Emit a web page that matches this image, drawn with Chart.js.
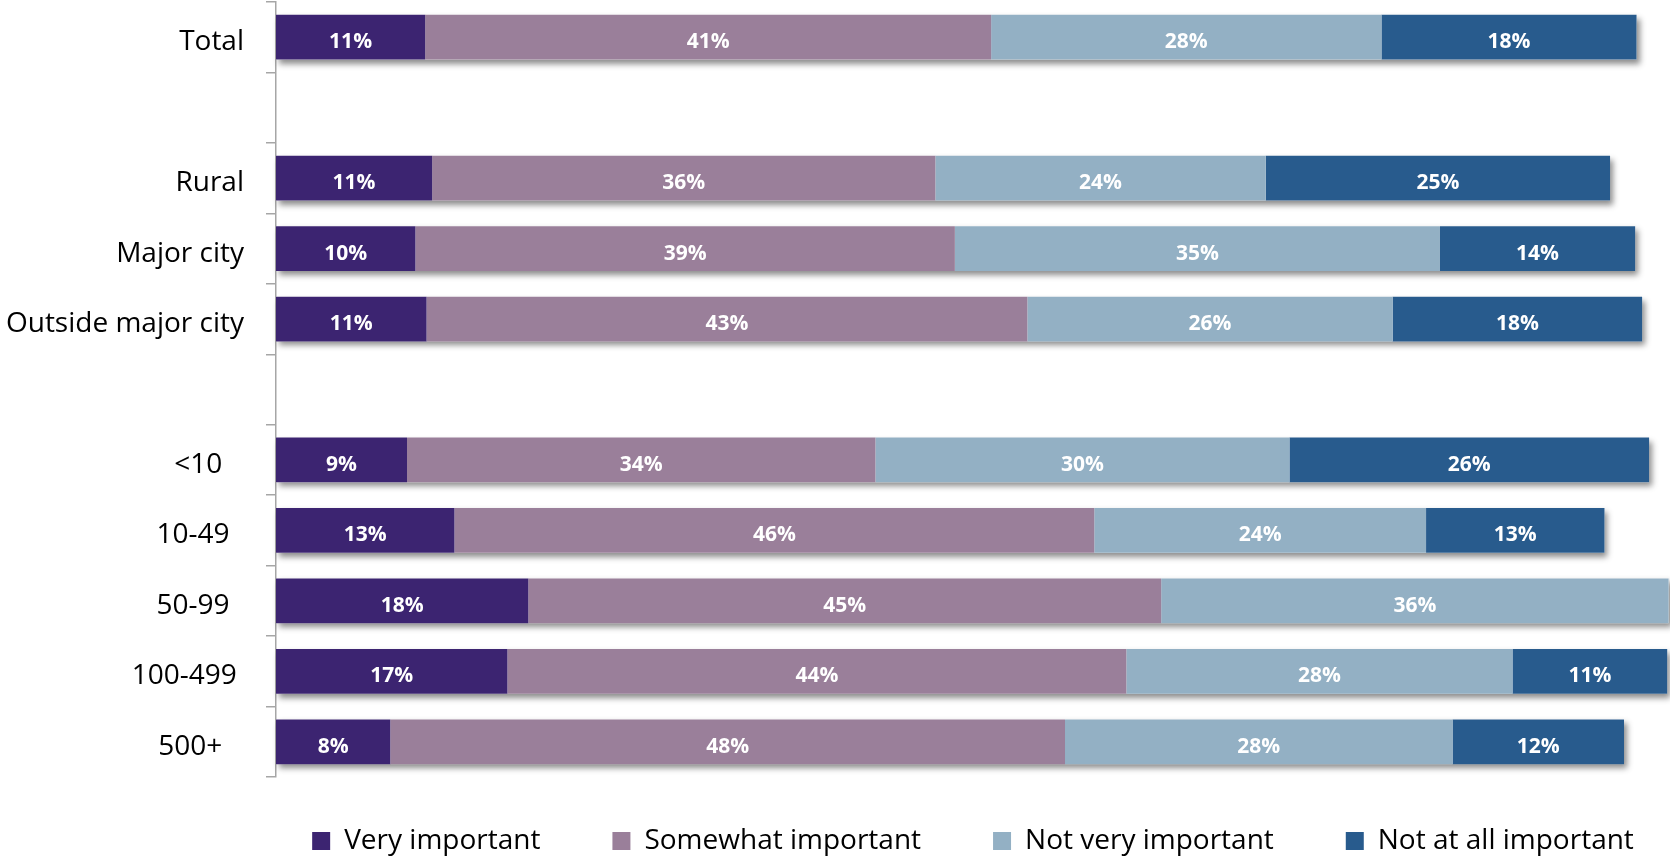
<!DOCTYPE html>
<html>
<head>
<meta charset="utf-8">
<script src="https://cdn.jsdelivr.net/npm/chart.js@4.4.0/dist/chart.umd.min.js"></script>
<style>
  html, body { margin: 0; padding: 0; background: #fff; }
  #wrap { width: 1670px; height: 858px; }
</style>
</head>
<body>
<div id="wrap"><canvas id="chart" width="1670" height="858"></canvas></div>
<script>
// rows (blank labels are the gaps between groups; trailing spaces as in the original)
const categories = ['Total', '', 'Rural', 'Major city', 'Outside major city', '',
  '<10   ', '10-49  ', '50-99  ', '100-499 ', '500+   '];

const seriesNames = ['Very important', 'Somewhat important', 'Not very important', 'Not at all important'];
const seriesColors = ['#3c2471', '#9a7f9a', '#93b0c4', '#285b8d'];

const veryImportant     = [10.7, null, 11.2, 10.0, 10.8, null, 9.4, 12.8, 18.1, 16.6, 8.2];
const somewhatImportant = [40.6, null, 36.1, 38.7, 43.1, null, 33.6, 45.9, 45.4, 44.4, 48.4];
const notVeryImportant  = [28.0, null, 23.7, 34.8, 26.2, null, 29.7, 23.8, 36.4, 27.7, 27.8];
const notAtAllImportant = [18.3, null, 24.7, 14.0, 17.9, null, 25.8, 12.8, null, 11.1, 12.3];

const seriesValues = [veryImportant, somewhatImportant, notVeryImportant, notAtAllImportant];

const FONT = "'Open Sans', 'Noto Sans', sans-serif";

// white rect with a drop shadow under each full stacked bar
const barShadow = {
  id: 'barShadow',
  beforeDatasetsDraw(chart) {
    const ctx = chart.ctx;
    const metas = chart.getSortedVisibleDatasetMetas();
    for (let i = 0; i < categories.length; i++) {
      let left = Infinity, right = -Infinity, top = 0, h = 0;
      for (const m of metas) {
        const el = m.data[i];
        if (!el || m._dataset.data[i] == null) continue;
        const p = el.getProps(['x', 'y', 'base', 'height'], true);
        left = Math.min(left, p.base, p.x);
        right = Math.max(right, p.base, p.x);
        top = p.y - p.height / 2;
        h = p.height;
      }
      if (right <= left) continue;
      ctx.save();
      ctx.shadowColor = 'rgba(0,0,0,0.45)';
      ctx.shadowBlur = 6;
      ctx.shadowOffsetX = 3;
      ctx.shadowOffsetY = 4;
      ctx.fillStyle = '#fff';
      ctx.fillRect(left, top, right - left, h);
      ctx.restore();
    }
  }
};

// white percentage labels centred in each segment
const segmentLabels = {
  id: 'segmentLabels',
  afterDatasetsDraw(chart) {
    const ctx = chart.ctx;
    ctx.save();
    ctx.font = 'bold 21px ' + FONT;
    ctx.fillStyle = '#fff';
    ctx.textAlign = 'center';
    ctx.textBaseline = 'middle';
    chart.getSortedVisibleDatasetMetas().forEach(m => {
      m.data.forEach((el, i) => {
        const v = m._dataset.data[i];
        if (v == null) return;
        const p = el.getProps(['x', 'y', 'base'], true);
        ctx.fillText(Math.round(v) + '%', (p.x + p.base) / 2, p.y + 5);
      });
    });
    ctx.restore();
  }
};

// legend: centred under the plot area and lifted a bit
const legendNudge = {
  id: 'legendNudge',
  afterLayout(chart) {
    const lg = chart.legend;
    if (!lg) return;
    const ca = chart.chartArea;
    const dx = (ca.left + ca.right) / 2 - (lg.left + lg.right) / 2;
    lg.left += dx;
    lg.right += dx;
    lg.top -= 22;
  }
};

new Chart(document.getElementById('chart'), {
  type: 'bar',
  data: {
    labels: categories,
    datasets: seriesNames.map((name, k) => ({
      label: name,
      data: seriesValues[k],
      backgroundColor: seriesColors[k],
      borderWidth: 0,
      barPercentage: 0.635,
      categoryPercentage: 1
    }))
  },
  options: {
    indexAxis: 'y',
    responsive: false,
    animation: false,
    layout: { padding: { top: 2, left: 0, right: 0, bottom: 0 } },
    scales: {
      x: { stacked: true, min: 0, max: 100, display: false },
      y: {
        stacked: true,
        grid: { display: true, drawOnChartArea: false, drawTicks: true, tickLength: 10, color: '#a6a6a6', lineWidth: 1.5 },
        border: { display: true, color: '#a6a6a6', width: 1.5 },
        ticks: { color: '#000', padding: 22, labelOffset: 5, autoSkip: false, font: { family: FONT, size: 28 } },
        afterFit(scale) {
          scale.width = 276;
          scale.paddingTop = 0;
          scale.paddingBottom = 0;
        }
      }
    },
    plugins: {
      tooltip: { enabled: false },
      legend: {
        position: 'bottom',
        maxHeight: 81,
        labels: {
          boxWidth: 18,
          boxHeight: 18,
          padding: 72,
          color: '#000',
          font: { family: FONT, size: 28 }
        }
      }
    }
  },
  plugins: [barShadow, segmentLabels, legendNudge]
});
</script>
</body>
</html>
